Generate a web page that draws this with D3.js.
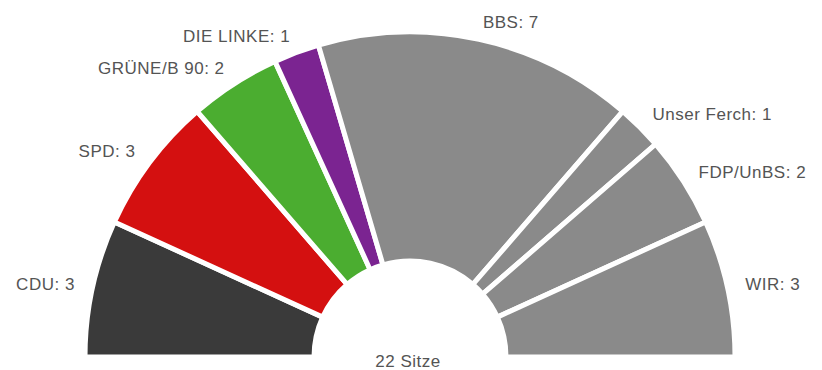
<!DOCTYPE html>
<html>
<head>
<meta charset="utf-8">
<script src="https://cdn.jsdelivr.net/npm/d3@7"></script>
<style>
  body { margin: 0; background: #fff; }
  text { font-family: "Liberation Sans", Arial, sans-serif; fill: #545454; letter-spacing: 0.5px; }
</style>
</head>
<body>
<svg width="822" height="370"></svg>
<script>
// parties, seats and colours (left to right)
var parties = ["CDU", "SPD", "GRÜNE/B 90", "DIE LINKE", "BBS", "Unser Ferch", "FDP/UnBS", "WIR"];
var seats = [3, 3, 2, 1, 7, 1, 2, 3];
var colors = ["#3a3a3a", "#d41010", "#4bad30", "#7b2491", "#8a8a8a", "#8a8a8a", "#8a8a8a", "#8a8a8a"];
var totalLabel = "22 Sitze";

var cx = 410, cy = 357;
var outerR = 325, innerR = 96, labelR = 343;

var svg = d3.select('svg').append('g').attr('transform', 'translate(' + cx + ',' + cy + ')');

var data = parties.map(function(p, i){
    return {party: p, seats: seats[i], color: colors[i]};
});

//half pie from left (-90deg) to right (+90deg)
var pie = d3.pie()
    .sort(null)
    .value(function(d){ return d.seats; })
    .startAngle(-Math.PI / 2)
    .endAngle(Math.PI / 2);

var arc = d3.arc().innerRadius(innerR).outerRadius(outerR);

var arcs = pie(data);

svg.selectAll('.slice')
    .data(arcs)
    .enter()
    .append('path')
    .attr('class', 'slice')
    .attr('d', arc)
    .attr('fill', function(d){ return d.data.color; })
    .attr('stroke', '#fff')
    .attr('stroke-width', 5)
    .attr('stroke-linejoin', 'miter');

//labels outside, anchored towards the arc
svg.selectAll('.label')
    .data(arcs)
    .enter()
    .append('text')
    .attr('class', 'label')
    .attr('x', function(d){
        var a = (d.startAngle + d.endAngle) / 2;
        return labelR * Math.sin(a);
    })
    .attr('y', function(d){
        var a = (d.startAngle + d.endAngle) / 2;
        return -labelR * Math.cos(a);
    })
    .attr('dy', '0.35em')
    .style('font-size', '17px')
    .style('text-anchor', function(d){
        var a = (d.startAngle + d.endAngle) / 2;
        return a < 0 ? 'end' : 'start';
    })
    .text(function(d){ return d.data.party + ': ' + d.data.seats; });

svg.append('text')
    .text(totalLabel)
    .attr('x', -2)
    .attr('y', 4)
    .attr('dy', '0.35em')
    .style('font-size', '17px')
    .style('text-anchor', 'middle');
</script>
</body>
</html>
